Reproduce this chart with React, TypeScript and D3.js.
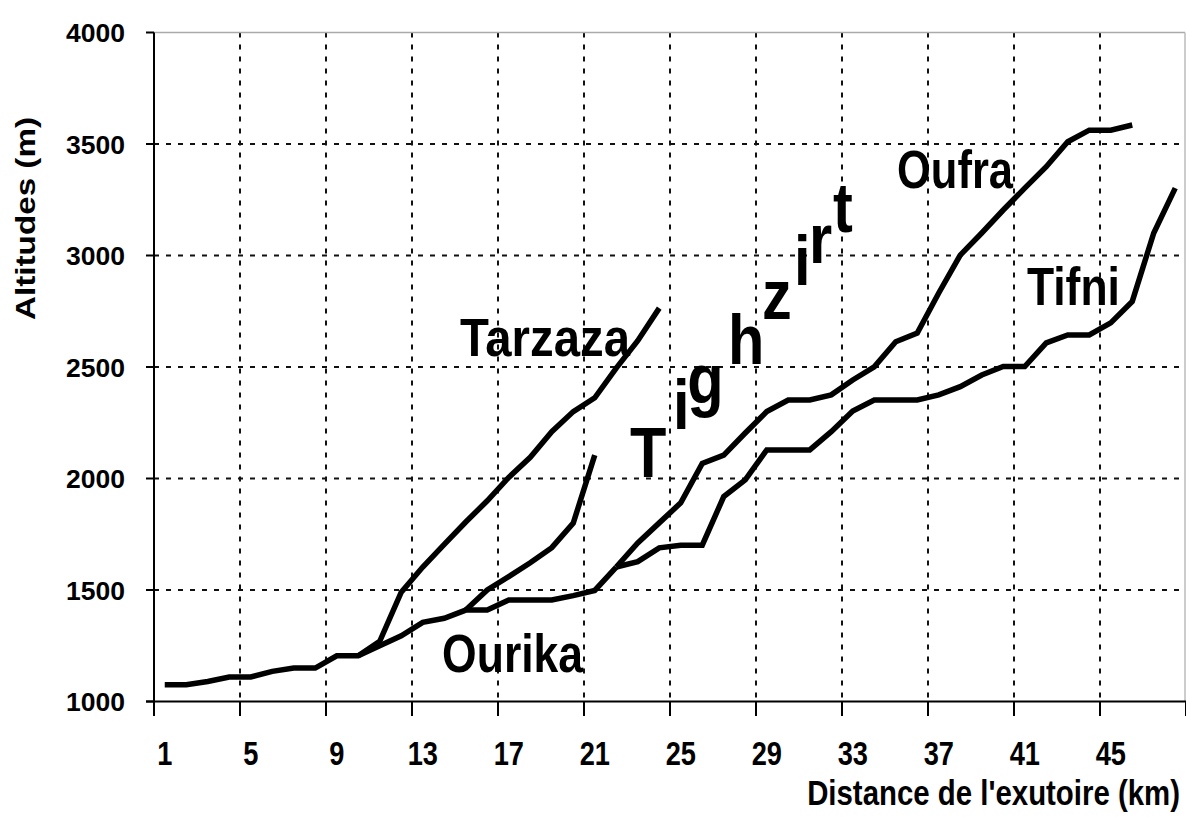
import React from 'react';
import * as d3 from 'd3';

// long profiles of the Ourika basin streams (altitude vs distance from outlet)
const W = 1186;
const H = 819;
const nCategories = 48;
const xTickLabels = [1, 5, 9, 13, 17, 21, 25, 29, 33, 37, 41, 45];
const yTicks = [1000, 1500, 2000, 2500, 3000, 3500, 4000];

// altitudes (m), one value per km, starting at the given km
const ourikaStart = 1;
const ourika = [1075, 1075, 1090, 1110, 1110, 1135, 1150, 1150, 1205, 1205, 1250, 1295, 1355, 1373, 1410, 1410, 1455, 1455, 1455, 1475, 1498, 1603];
const tarzazaStart = 10;
const tarzaza = [1205, 1270, 1490, 1603, 1705, 1805, 1900, 2005, 2095, 2210, 2300, 2362, 2495, 2618, 2764];
const tighzirtStart = 15;
const tighzirt = [1410, 1500, 1560, 1622, 1690, 1800, 2105];
const oufraStart = 22;
const oufra = [1603, 1711, 1801, 1891, 2068, 2105, 2204, 2300, 2352, 2352, 2375, 2442, 2501, 2613, 2652, 2832, 3002, 3101, 3204, 3302, 3398, 3510, 3562, 3562, 3585];
const tifniStart = 22;
const tifni = [1603, 1627, 1689, 1701, 1701, 1919, 1994, 2128, 2128, 2128, 2210, 2303, 2352, 2352, 2352, 2375, 2412, 2464, 2502, 2502, 2608, 2644, 2644, 2698, 2794, 3101, 3302];

const series = [
  { name: 'Ourika', start: ourikaStart, values: ourika },
  { name: 'Tarzaza', start: tarzazaStart, values: tarzaza },
  { name: 'Tighzirt', start: tighzirtStart, values: tighzirt },
  { name: 'Oufra', start: oufraStart, values: oufra },
  { name: 'Tifni', start: tifniStart, values: tifni },
];

// stream names, placed in data units (km, m)
const streamLabels = [
  { text: 'Tarzaza', km: 14.73, alt: 2549, len: 170 },
  { text: 'Ourika', km: 13.9, alt: 1132, len: 141 },
  { text: 'Oufra', km: 35.06, alt: 3303, len: 116 },
  { text: 'Tifni', km: 41.1, alt: 2778, len: 93 },
];
const tighzirtLetters = [
  { ch: 'T', km: 22.64, alt: 2007 },
  { ch: 'i', km: 24.64, alt: 2222 },
  { ch: 'g', km: 25.3, alt: 2339 },
  { ch: 'h', km: 27.2, alt: 2513 },
  { ch: 'z', km: 28.78, alt: 2715 },
  { ch: 'i', km: 30.27, alt: 2868 },
  { ch: 'r', km: 30.97, alt: 2966 },
  { ch: 't', km: 32.08, alt: 3105 },
];

const font = '"Liberation Sans", Arial, sans-serif';

const App = () => {
  const x = d3.scaleLinear().domain([0.5, nCategories + 0.5]).range([154, 1186]);
  const y = d3.scaleLinear().domain([1000, 4000]).range([701.5, 32.5]);

  const boundaries = d3.range(0.5, nCategories + 0.6, 4);

  const line = d3.line<{ km: number; alt: number }>()
    .x(d => x(d.km))
    .y(d => y(d.alt));

  return (
    <svg width={W} height={H} style={{ position: 'absolute', left: 0, top: 0, background: '#fff' }}
      fontFamily={font} fontWeight="bold">
      {/* grid */}
      {yTicks.filter(t => t > 1000 && t < 4000).map(t => (
        <line key={'hg' + t} x1={x(0.5)} x2={x(nCategories + 0.5)} y1={y(t)} y2={y(t)}
          stroke="#111" strokeWidth={2} strokeDasharray="5 7" />
      ))}
      {boundaries.filter(b => b > 0.5 && b < nCategories).map(b => (
        <line key={'vg' + b} x1={x(b)} x2={x(b)} y1={y(4000)} y2={y(1000)}
          stroke="#111" strokeWidth={2} strokeDasharray="5 7" />
      ))}
      {/* plot border */}
      <line x1={x(0.5)} x2={x(nCategories + 0.5) - 1} y1={y(4000)} y2={y(4000)} stroke="#aaa" strokeWidth={1.5} />
      <line x1={x(nCategories + 0.5) - 1} x2={x(nCategories + 0.5) - 1} y1={y(4000)} y2={y(1000)} stroke="#bbb" strokeWidth={1.5} />

      {/* axes */}
      <line x1={146} x2={x(nCategories + 0.5)} y1={y(1000)} y2={y(1000)} stroke="#000" strokeWidth={2} />
      <line x1={x(0.5)} x2={x(0.5)} y1={y(4000)} y2={716} stroke="#000" strokeWidth={2} />
      {yTicks.map(t => (
        <g key={'yt' + t}>
          <line x1={146} x2={x(0.5)} y1={y(t)} y2={y(t)} stroke="#000" strokeWidth={2} />
          <text x={125} y={y(t) + 9.5} textAnchor="end" fontSize={26.5}>{t}</text>
        </g>
      ))}
      {boundaries.map(b => (
        <line key={'xt' + b} x1={x(b)} x2={x(b)} y1={y(1000)} y2={716} stroke="#000" strokeWidth={2} />
      ))}
      {xTickLabels.map(k => (
        <text key={'xl' + k} transform={`translate(${x(k)},765) scale(0.8,1)`} textAnchor="middle" fontSize={34}>{k}</text>
      ))}

      {/* axis titles */}
      <text transform="translate(35,218.5) rotate(-90)" textAnchor="middle" fontSize={28}
        textLength={203} lengthAdjust="spacingAndGlyphs">Altitudes (m)</text>
      <text transform="translate(1180,805) scale(0.84,1)" textAnchor="end" fontSize={35}>Distance de l'exutoire (km)</text>

      {/* profiles */}
      {series.map(s => (
        <path key={s.name}
          d={line(s.values.map((v, i) => ({ km: s.start + i, alt: v }))) || ''}
          fill="none" stroke="#000" strokeWidth={5.5} strokeLinejoin="miter" />
      ))}

      {/* names */}
      {streamLabels.map(l => (
        <text key={l.text} x={x(l.km)} y={y(l.alt)} fontSize={54}
          textLength={l.len} lengthAdjust="spacingAndGlyphs">{l.text}</text>
      ))}
      {tighzirtLetters.map((l, i) => (
        <text key={'tz' + i} transform={`translate(${x(l.km)},${y(l.alt)}) scale(0.85,1)`} fontSize={70}>{l.ch}</text>
      ))}
    </svg>
  );
};

export default App;
